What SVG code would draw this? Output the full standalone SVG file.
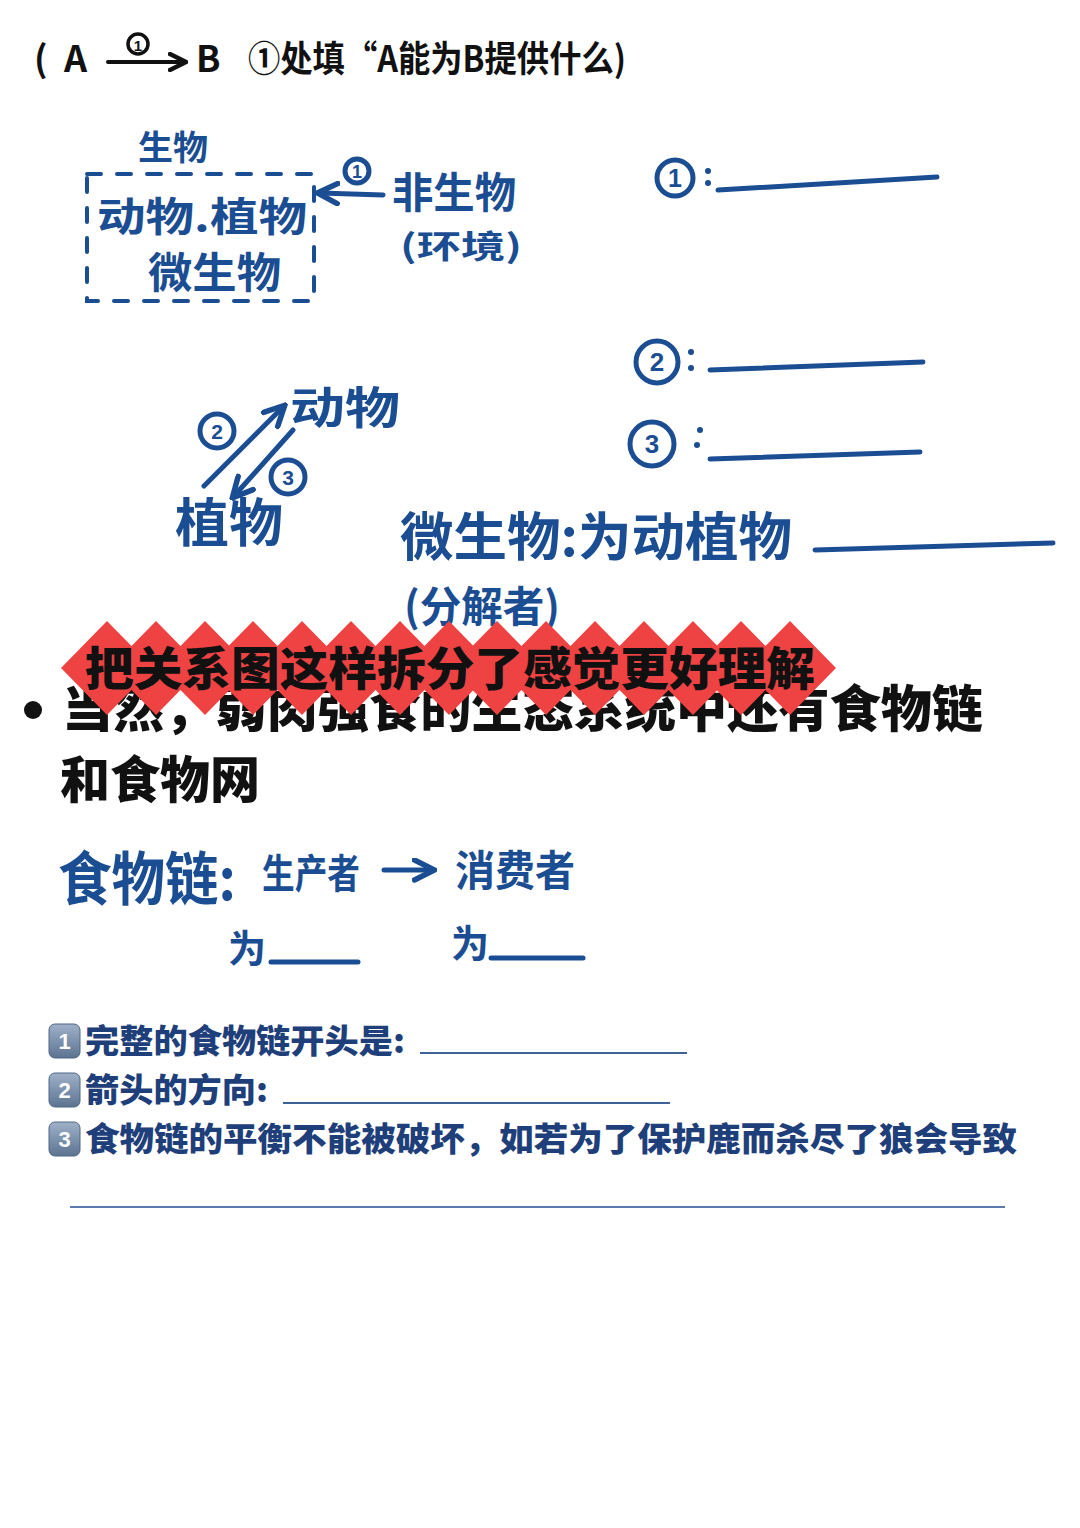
<svg xmlns="http://www.w3.org/2000/svg" width="1080" height="1528" viewBox="0 0 1080 1528">
<style>
.hw{font-family:"Noto Sans CJK SC","Noto Sans",sans-serif;font-weight:700;fill:#1b4d93}
.blk{font-family:"Noto Sans CJK SC","Noto Sans",sans-serif;font-weight:700;fill:#111}
.pr{font-family:"Noto Sans CJK SC","Liberation Serif",serif;font-weight:900;fill:#1f3f7b}
.ln{stroke:#1b4d93;stroke-width:5;stroke-linecap:round;fill:none}
.circ{stroke:#1b4d93;stroke-width:5;fill:none}
.num{font-family:"Liberation Sans",sans-serif;font-weight:700;fill:#1b4d93;text-anchor:middle}
.key{fill:url(#kg);stroke:#4f6685;stroke-width:1}
.kn{font-family:"Liberation Sans",sans-serif;font-weight:700;fill:#fff;font-size:22px;text-anchor:middle}
.ul{stroke:#3d6399;stroke-width:2}
</style>
<defs>
<linearGradient id="kg" x1="0" y1="0" x2="0" y2="1"><stop offset="0" stop-color="#9fb1c8"/><stop offset="1" stop-color="#5c7391"/></linearGradient>
<polygon id="dia" points="0,-47 46,0 0,47 -46,0" fill="#ef4343"/>
<marker id="ah" viewBox="0 0 10 10" refX="8" refY="5" markerWidth="5" markerHeight="5" orient="auto"><path d="M1,1 L9,5 L1,9" fill="none" stroke="#1b4d93" stroke-width="2.2" stroke-linecap="round"/></marker>
<marker id="ahk" viewBox="0 0 10 10" refX="8" refY="5" markerWidth="5" markerHeight="5" orient="auto"><path d="M1,1 L9,5 L1,9" fill="none" stroke="#111" stroke-width="2.2" stroke-linecap="round"/></marker>
</defs>
<rect width="1080" height="1528" fill="#fff"/>

<g id="header">
<text class="blk" x="34" y="72" font-size="36">(</text>
<text class="blk" x="64" y="72" font-size="36">A</text>
<circle cx="138" cy="44" r="10" fill="none" stroke="#111" stroke-width="3.5"/>
<text x="138" y="51" font-family="Liberation Sans,sans-serif" font-weight="700" font-size="15" text-anchor="middle" fill="#111">1</text>
<text class="blk" x="196" y="72" font-size="36">B</text>
<text class="blk" x="248" y="72" font-size="36" textLength="378" lengthAdjust="spacingAndGlyphs">①处填“A能为B提供什么)</text>
</g>

<g id="node-biology">
<text class="hw" x="138" y="160" font-size="34" textLength="70" lengthAdjust="spacingAndGlyphs">生物</text>
<rect x="87" y="174" width="227" height="127" fill="none" stroke="#1b4d93" stroke-width="4" stroke-dasharray="14 16" stroke-linecap="round"/>
<text class="hw" x="97" y="231" font-size="40" textLength="210" lengthAdjust="spacingAndGlyphs">动物.植物</text>
<text class="hw" x="148" y="288" font-size="42" textLength="133" lengthAdjust="spacingAndGlyphs">微生物</text>
</g>

<g id="node-abiotic">
<text class="hw" x="392" y="208" font-size="42" textLength="124" lengthAdjust="spacingAndGlyphs">非生物</text>
<text class="hw" x="400" y="258" font-size="32" textLength="122" lengthAdjust="spacingAndGlyphs">(环境)</text>
</g>

<g id="node-blanks">
<circle class="circ" cx="675" cy="178" r="18"/>
<text class="num" x="675" y="187" font-size="25">1</text>
<circle cx="708" cy="171" r="3" fill="#1b4d93"/><circle cx="708" cy="183" r="3" fill="#1b4d93"/>
<path class="ln" d="M718,190 L937,177" stroke-width="6"/>
<circle class="circ" cx="657" cy="362" r="21"/>
<text class="num" x="657" y="371" font-size="26">2</text>
<circle cx="691" cy="352" r="3" fill="#1b4d93"/><circle cx="691" cy="368" r="3" fill="#1b4d93"/>
<path class="ln" d="M710,370 L923,362" stroke-width="6"/>
<circle class="circ" cx="652" cy="444" r="22"/>
<text class="num" x="652" y="453" font-size="26">3</text>
<circle cx="700" cy="430" r="3" fill="#1b4d93"/><circle cx="697" cy="445" r="3" fill="#1b4d93"/>
<path class="ln" d="M710,459 L920,452" stroke-width="6"/>
</g>

<g id="node-animal"><text class="hw" x="290" y="424" font-size="44" textLength="110" lengthAdjust="spacingAndGlyphs">动物</text></g>
<g id="node-plant"><text class="hw" x="175" y="542" font-size="52" textLength="108" lengthAdjust="spacingAndGlyphs">植物</text></g>

<g id="node-microbe">
<text class="hw" x="400" y="556" font-size="52" textLength="392" lengthAdjust="spacingAndGlyphs">微生物:为动植物</text>
<path class="ln" d="M815,550 L1053,543" stroke-width="6"/>
<text class="hw" x="404" y="622" font-size="42" textLength="156" lengthAdjust="spacingAndGlyphs">(分解者)</text>
</g>

<g id="connectors">
<line x1="108" y1="62" x2="184" y2="62" stroke="#111" stroke-width="4" stroke-linecap="round" marker-end="url(#ahk)"/>
<line class="ln" x1="383" y1="195" x2="320" y2="193" stroke-width="4" marker-end="url(#ah)"/>
<circle class="circ" cx="357" cy="171" r="12" stroke-width="4"/>
<text class="num" x="357" y="178" font-size="18">1</text>
<line class="ln" x1="204" y1="486" x2="283" y2="407" stroke-width="4.5" marker-end="url(#ah)"/>
<circle class="circ" cx="217" cy="431" r="17"/>
<text class="num" x="217" y="439" font-size="21">2</text>
<line class="ln" x1="293" y1="430" x2="234" y2="496" stroke-width="4.5" marker-end="url(#ah)"/>
<circle class="circ" cx="288" cy="477" r="17"/>
<text class="num" x="288" y="485" font-size="21">3</text>
<line class="ln" x1="384" y1="870" x2="432" y2="870" stroke-width="4" marker-end="url(#ah)"/>
</g>

<g id="node-bullet">
<circle cx="33" cy="710" r="9" fill="#111"/>
<text x="62" y="727" font-family="Noto Sans CJK SC,sans-serif" font-weight="900" font-size="50" fill="#111" textLength="921" lengthAdjust="spacingAndGlyphs">当然，弱肉强食的生态系统中还有食物链</text>
<text x="60" y="798" font-family="Noto Sans CJK SC,sans-serif" font-weight="900" font-size="50" fill="#111" textLength="200" lengthAdjust="spacingAndGlyphs">和食物网</text>
</g>

<g id="node-banner">
<use href="#dia" x="107" y="668"/><use href="#dia" x="156" y="668"/><use href="#dia" x="205" y="668"/><use href="#dia" x="253" y="668"/><use href="#dia" x="302" y="668"/><use href="#dia" x="351" y="668"/><use href="#dia" x="400" y="668"/><use href="#dia" x="449" y="668"/><use href="#dia" x="497" y="668"/><use href="#dia" x="546" y="668"/><use href="#dia" x="595" y="668"/><use href="#dia" x="644" y="668"/><use href="#dia" x="693" y="668"/><use href="#dia" x="741" y="668"/><use href="#dia" x="790" y="668"/>
<text x="85" y="685" font-family="Noto Sans CJK SC,sans-serif" font-weight="900" font-size="46" fill="#111" textLength="730" lengthAdjust="spacingAndGlyphs">把关系图这样拆分了感觉更好理解</text>
</g>

<g id="node-foodchain">
<text class="hw" x="58" y="900" font-size="58" textLength="178" lengthAdjust="spacingAndGlyphs">食物链:</text>
<text class="hw" x="262" y="888" font-size="40" textLength="98" lengthAdjust="spacingAndGlyphs">生产者</text>
<text class="hw" x="455" y="886" font-size="42" textLength="120" lengthAdjust="spacingAndGlyphs">消费者</text>
<text class="hw" x="228" y="962" font-size="38">为</text>
<path class="ln" d="M271,962 L358,962"/>
<text class="hw" x="451" y="957" font-size="38">为</text>
<path class="ln" d="M491,958 L583,958"/>
</g>

<g id="node-questions">
<rect class="key" x="49" y="1024" width="31" height="34" rx="6"/><text class="kn" x="64.5" y="1049">1</text>
<text class="pr" x="85" y="1053" font-size="33" textLength="320" lengthAdjust="spacingAndGlyphs">完整的食物链开头是:</text>
<line class="ul" x1="420" y1="1053" x2="687" y2="1053"/>
<rect class="key" x="49" y="1073" width="31" height="34" rx="6"/><text class="kn" x="64.5" y="1098">2</text>
<text class="pr" x="85" y="1102" font-size="33" textLength="183" lengthAdjust="spacingAndGlyphs">箭头的方向:</text>
<line class="ul" x1="283" y1="1103" x2="670" y2="1103"/>
<rect class="key" x="49" y="1122" width="31" height="34" rx="6"/><text class="kn" x="64.5" y="1147">3</text>
<text class="pr" x="85" y="1151" font-size="33" textLength="932" lengthAdjust="spacingAndGlyphs">食物链的平衡不能被破坏，如若为了保护鹿而杀尽了狼会导致</text>
<line x1="70" y1="1207" x2="1005" y2="1207" stroke="#5a7bac" stroke-width="2"/>
</g>
</svg>
